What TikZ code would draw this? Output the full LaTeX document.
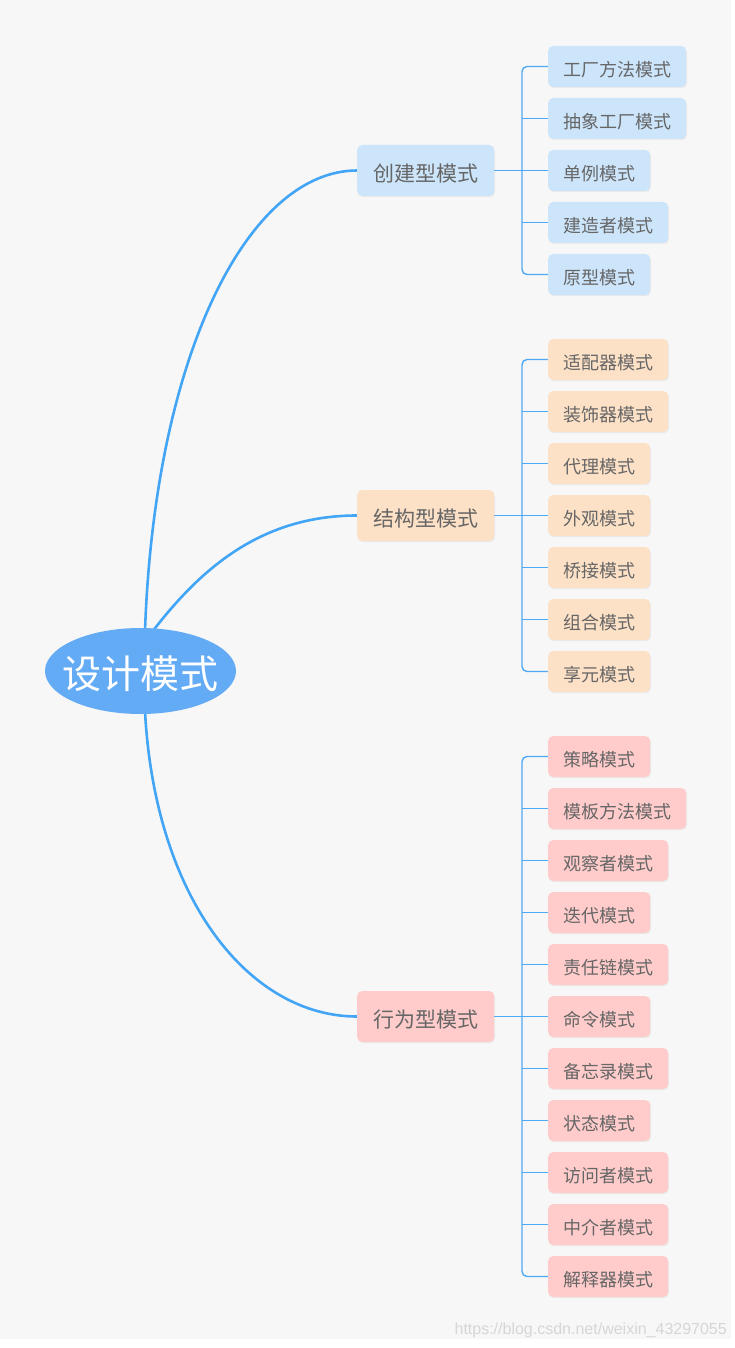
\documentclass[tikz,border=0pt]{standalone}
\usepackage{fontspec}
\setmainfont{Noto Sans CJK SC}
\newfontfamily\wmfont{Liberation Sans}
\usetikzlibrary{shapes.geometric,shadows,calc}
\definecolor{bgc}{HTML}{F7F7F7}
\definecolor{rootc}{HTML}{64ABF6}
\definecolor{linec}{HTML}{42A5F5}
\definecolor{brc}{HTML}{4FA9F5}
\definecolor{bluec}{HTML}{CCE5FB}
\definecolor{peachc}{HTML}{FDE1C7}
\definecolor{pinkc}{HTML}{FFCCCB}
\definecolor{txtc}{HTML}{666666}
\definecolor{wmc}{HTML}{D6D6D6}
\pgfdeclarelayer{bglayer}
\pgfdeclarelayer{linelayer}
\pgfsetlayers{bglayer,linelayer,main}
\begin{document}
\begin{tikzpicture}[x=1pt,y=1pt,
  leaf/.style={rectangle, rounded corners=5pt, anchor=west, minimum height=41pt,
    inner xsep=15pt, inner ysep=0pt, text=txtc,
    font=\fontsize{18pt}{20pt}\selectfont, text height=20.5pt, text depth=0.8pt,
    drop shadow={shadow xshift=0.8pt, shadow yshift=-1.2pt, opacity=0.10}},
  cat/.style={rectangle, rounded corners=5pt, anchor=west, minimum height=51pt,
    inner xsep=16pt, inner ysep=0pt, text=txtc,
    font=\fontsize{21pt}{23pt}\selectfont, text height=23pt, text depth=1pt,
    drop shadow={shadow xshift=0.8pt, shadow yshift=-1.2pt, opacity=0.10}},
  curve/.style={draw=linec, line width=2.6pt},
  br/.style={draw=brc, line width=1.4pt}]
\useasboundingbox (0,0) rectangle (735,-1348);
\begin{pgfonlayer}{bglayer}
\fill[white] (0,0) rectangle (735,-1348);
\fill[bgc] (0,0) rectangle (731,-1339);
\end{pgfonlayer}

% root
\node[ellipse, fill=rootc, minimum width=191pt, minimum height=86pt, inner sep=0pt] (root) at (140.5,-671) {};
\node[text=white, font=\fontsize{39pt}{41pt}\selectfont, inner sep=0pt, text height=30pt, text depth=1.5pt] (roottext) at (140.5,-674) {设计模式};

% categories
\node[cat, fill=bluec] (A) at (357,-170.5) {创建型模式};
\node[cat, fill=peachc] (B) at (357,-515.5) {结构型模式};
\node[cat, fill=pinkc] (C) at (357,-1016.5) {行为型模式};

% creational leaves
\node[leaf, fill=bluec] (a1) at (548,-66.5) {工厂方法模式};
\node[leaf, fill=bluec] (a2) at (548,-118.5) {抽象工厂模式};
\node[leaf, fill=bluec] (a3) at (548,-170.5) {单例模式};
\node[leaf, fill=bluec] (a4) at (548,-222.5) {建造者模式};
\node[leaf, fill=bluec] (a5) at (548,-274.5) {原型模式};

% structural leaves
\node[leaf, fill=peachc] (b1) at (548,-359.5) {适配器模式};
\node[leaf, fill=peachc] (b2) at (548,-411.5) {装饰器模式};
\node[leaf, fill=peachc] (b3) at (548,-463.5) {代理模式};
\node[leaf, fill=peachc] (b4) at (548,-515.5) {外观模式};
\node[leaf, fill=peachc] (b5) at (548,-567.5) {桥接模式};
\node[leaf, fill=peachc] (b6) at (548,-619.5) {组合模式};
\node[leaf, fill=peachc] (b7) at (548,-671.5) {享元模式};

% behavioral leaves
\node[leaf, fill=pinkc] (c1) at (548,-756.5) {策略模式};
\node[leaf, fill=pinkc] (c2) at (548,-808.5) {模板方法模式};
\node[leaf, fill=pinkc] (c3) at (548,-860.5) {观察者模式};
\node[leaf, fill=pinkc] (c4) at (548,-912.5) {迭代模式};
\node[leaf, fill=pinkc] (c5) at (548,-964.5) {责任链模式};
\node[leaf, fill=pinkc] (c6) at (548,-1016.5) {命令模式};
\node[leaf, fill=pinkc] (c7) at (548,-1068.5) {备忘录模式};
\node[leaf, fill=pinkc] (c8) at (548,-1120.5) {状态模式};
\node[leaf, fill=pinkc] (c9) at (548,-1172.5) {访问者模式};
\node[leaf, fill=pinkc] (c10) at (548,-1224.5) {中介者模式};
\node[leaf, fill=pinkc] (c11) at (548,-1276.5) {解释器模式};

\coordinate (bx) at (522,0);

\begin{pgfonlayer}{linelayer}
% root to categories
\draw[curve] ([xshift=4.5pt,yshift=-3pt]root.north) .. controls (155,-350) and (250,-170.5) .. (A.west);
\draw[curve] ([xshift=12.5pt,yshift=-3pt]root.north) .. controls (200,-570) and (260,-515.5) .. (B.west);
\draw[curve] ([xshift=4.5pt,yshift=3pt]root.south) .. controls (155,-900) and (250,-1016.5) .. (C.west);

% brackets
\draw[br] (A.east) -- (a3.west);
\draw[br, rounded corners=5pt] (a1.west) -- (a1.west -| bx) -- (a5.west -| bx) -- (a5.west);
\foreach \i in {2,4} \draw[br] (a\i.west -| bx) -- (a\i.west);

\draw[br] (B.east) -- (b4.west);
\draw[br, rounded corners=5pt] (b1.west) -- (b1.west -| bx) -- (b7.west -| bx) -- (b7.west);
\foreach \i in {2,3,5,6} \draw[br] (b\i.west -| bx) -- (b\i.west);

\draw[br] (C.east) -- (c6.west);
\draw[br, rounded corners=5pt] (c1.west) -- (c1.west -| bx) -- (c11.west -| bx) -- (c11.west);
\foreach \i in {2,3,4,5,7,8,9,10} \draw[br] (c\i.west -| bx) -- (c\i.west);
\end{pgfonlayer}

% watermark
\node[font=\wmfont\fontsize{16pt}{18pt}\selectfont, text=wmc, anchor=base east, inner sep=0pt] (wm) at (727,-1334) {https://blog.csdn.net/weixin\_43297055};
\end{tikzpicture}
\end{document}
